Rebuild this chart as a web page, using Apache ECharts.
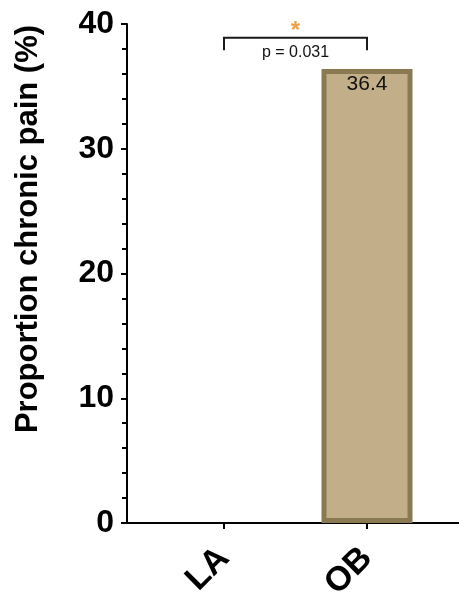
<!DOCTYPE html>
<html>
<head>
<meta charset="utf-8">
<script src="https://cdn.jsdelivr.net/npm/echarts@6/dist/echarts.min.js"></script>
<style>
  html, body { margin: 0; padding: 0; background: #fff; }
  #chart { width: 459px; height: 596px; }
</style>
</head>
<body>
<div id="chart"></div>
<script>
// Groups and their chronic pain proportions (%)
const groups = ['LA', 'OB'];
const painPct = [0, 36.4];

// Significance bracket between the two groups
const bracketTop = 38.9;
const bracketFoot = 37.9;
const pText = 'p = 0.031';
const starText = '*';

const yTicks = { min: 0, max: 40, interval: 10 };

const FONT = '"Liberation Sans", Arial, Helvetica, sans-serif';

// An empty group gets no outline
const barData = painPct.map((v) => ({
  value: v,
  itemStyle: v > 0 ? {} : { borderWidth: 0 }
}));

const chart = echarts.init(document.getElementById('chart'), null, { renderer: 'canvas' });

chart.setOption({
  animation: false,
  backgroundColor: '#ffffff',
  grid: [
    { left: 152.5, right: 20.5, top: 24, bottom: 73, outerBoundsMode: 'none', containLabel: false },
    { left: 127, right: 0, top: 24, bottom: 73, outerBoundsMode: 'none', containLabel: false }
  ],
  xAxis: [
    {
      gridIndex: 0,
      type: 'category',
      data: groups,
      axisLine: { show: false },
      axisTick: { show: true, alignWithLabel: true, length: 6, lineStyle: { color: '#000', width: 2 } },
      axisLabel: {
        rotate: 45,
        margin: 30,
        color: '#000',
        fontFamily: FONT,
        fontWeight: 'bold',
        fontSize: 34
      }
    },
    {
      gridIndex: 1,
      type: 'value',
      min: 0,
      max: 1,
      axisLine: { show: true, onZero: false, lineStyle: { color: '#000', width: 2 } },
      axisTick: { show: false },
      axisLabel: { show: false },
      splitLine: { show: false }
    }
  ],
  yAxis: [
    {
      gridIndex: 0,
      type: 'value',
      min: yTicks.min,
      max: yTicks.max,
      interval: yTicks.interval,
      offset: 25.5,
      axisLine: { show: true, lineStyle: { color: '#000', width: 2 } },
      axisTick: { show: true, length: 6, lineStyle: { color: '#000', width: 2 } },
      minorTick: { show: true, splitNumber: 5, length: 5, lineStyle: { color: '#000', width: 2 } },
      splitLine: { show: false },
      axisLabel: {
        margin: 13,
        color: '#000',
        fontFamily: FONT,
        fontWeight: 'bold',
        fontSize: 32
      }
    },
    {
      gridIndex: 1,
      type: 'value',
      show: false,
      min: 0,
      max: 1
    }
  ],
  series: [
    {
      type: 'bar',
      xAxisIndex: 0,
      yAxisIndex: 0,
      data: barData,
      barWidth: 91,
      itemStyle: {
        color: '#c2ae88',
        borderColor: '#8a7a52',
        borderWidth: 5
      },
      label: {
        show: true,
        position: 'insideTop',
        distance: 5,
        color: '#111',
        fontFamily: FONT,
        fontSize: 21,
        formatter: (p) => (p.value > 0 ? p.value.toFixed(1) : '')
      }
    },
    {
      type: 'custom',
      xAxisIndex: 0,
      yAxisIndex: 0,
      data: [[0, 1, bracketTop, bracketFoot]],
      silent: true,
      z: 5,
      renderItem: function (params, api) {
        const a = api.coord([api.value(0), api.value(3)]);
        const b = api.coord([api.value(0), api.value(2)]);
        const c = api.coord([api.value(1), api.value(2)]);
        const d = api.coord([api.value(1), api.value(3)]);
        const mid = (b[0] + c[0]) / 2;
        return {
          type: 'group',
          children: [
            {
              type: 'polyline',
              shape: { points: [a, b, c, d] },
              style: { stroke: '#1a1a1a', lineWidth: 2, fill: null }
            },
            {
              type: 'text',
              style: {
                text: pText,
                x: mid,
                y: b[1] + 7,
                align: 'center',
                verticalAlign: 'top',
                fill: '#111',
                font: '16px ' + FONT
              }
            },
            {
              type: 'text',
              style: {
                text: starText,
                x: mid,
                y: b[1] + 6,
                align: 'center',
                verticalAlign: 'bottom',
                fill: '#f0a040',
                font: 'bold 24px ' + FONT
              }
            }
          ]
        };
      }
    }
  ],
  graphic: [
    {
      type: 'text',
      x: 28,
      y: 229,
      rotation: Math.PI / 2,
      style: {
        text: 'Proportion chronic pain (%)',
        align: 'center',
        verticalAlign: 'middle',
        fill: '#000',
        font: 'bold 31px ' + FONT
      }
    }
  ]
});
</script>
</body>
</html>
